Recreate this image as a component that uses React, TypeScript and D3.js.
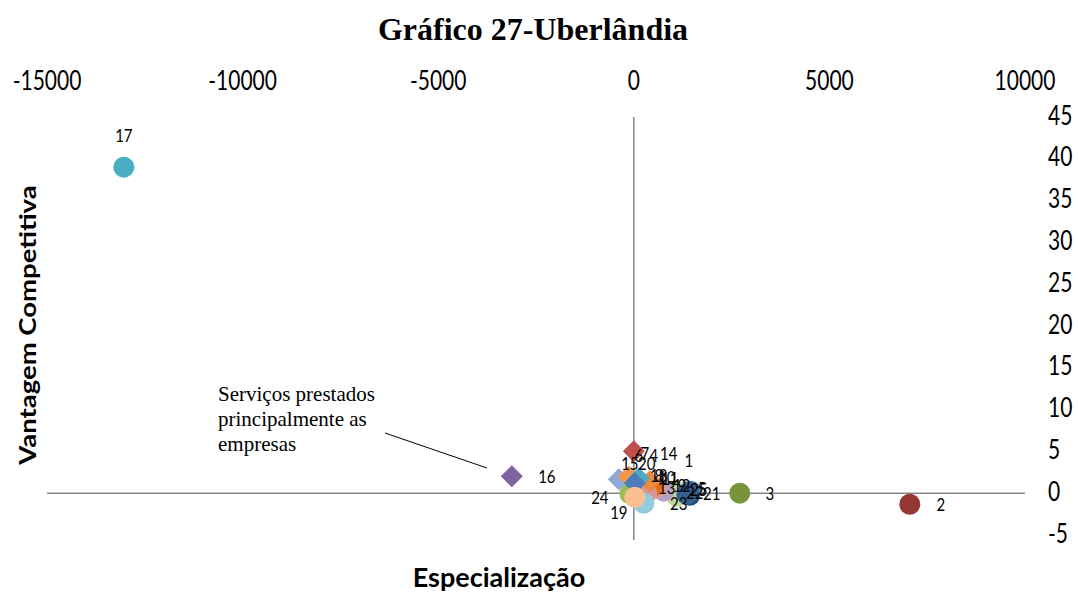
import React from "react";
import * as d3 from "d3";

// ---- data ----
const pointLabels = ["1","2","3","4","5","6","7","8","9","10","11","12","13","14","15","16","17","18","19","20","21","22","23","24","25"];
const especializacao = [409, 7055, 2709, -128, 1406, 128, 26, 460, 1074, 588, 716, 1150, 767, 0, -383, -3118, -13036, 332, 256, -102, 1431, 1355, 1099, 26, 1457];
const vantagem = [1.44, -1.32, 0.0, 2.0, 0.12, 1.8, 1.2, 0.72, 0.24, 0.6, 0.48, -0.12, 0.24, 5.02, 1.67, 2.03, 39.0, 0.0, -1.2, -0.05, -0.24, -0.12, -0.36, -0.48, 0.24];
const xTicks = [-15000, -10000, -5000, 0, 5000, 10000];
const yTicks = [45, 40, 35, 30, 25, 20, 15, 10, 5, 0, -5];

// ---- styling ----
const markerShape: Record<string, string> = {
  "1": "diamond", "4": "diamond", "6": "diamond", "7": "diamond", "14": "diamond", "15": "diamond", "16": "diamond",
};
const markerColor: Record<string, string> = {
  "1": "#E98A3C", "2": "#953735", "3": "#77933C", "4": "#F79646", "5": "#376092", "6": "#4BACC6",
  "7": "#4A7DBA", "8": "#E46C0A", "9": "#C3D69B", "10": "#D99694", "11": "#B3A2C7", "12": "#C3D69B",
  "13": "#B3A2C7", "14": "#C0504D", "15": "#8EA9D6", "16": "#8064A2", "17": "#4BACC6", "18": "#D99694",
  "19": "#93CDDD", "20": "#9BBB59", "21": "#1F497D", "22": "#376092", "23": "#C3D69B", "24": "#FAC090", "25": "#4F81BD",
};
// label offsets (px) relative to the marker
const labelOffset: Record<string, [number, number]> = {
  "17": [0, -31], "16": [35, 1], "2": [31, 1], "3": [30, 1], "14": [35, 3], "6": [0, -22], "7": [10, -29],
  "4": [25, -20], "15": [11, -15], "20": [17, -30], "1": [39, -20], "18": [12, -17], "13": [3, -3],
  "12": [3, -8], "9": [6, -5], "5": [13, -3], "22": [8, -1], "25": [8, -1], "21": [22, -1], "23": [2, 8],
  "24": [-35, 1], "19": [-25, 10], "8": [7, -11], "10": [10, -10], "11": [8, -10],
};
const drawOrder = ["17", "16", "2", "3", "20", "9", "12", "23", "21", "22", "25", "5", "13", "11", "10", "8", "18", "1", "15", "4", "6", "7", "14", "19", "24"];

const W = 1078, H = 593;
const sans = "Lato, 'Open Sans', sans-serif";
const serif = "'Liberation Serif', 'Times New Roman', serif";

export default function App() {
  const x = d3.scaleLinear().domain([-15000, 10000]).range([47, 1025]);
  const y = d3.scaleLinear().domain([-5, 45]).range([535, 117]);
  const idx = (l: string) => pointLabels.indexOf(l);
  const dh = 11;
  const diamond = `M0,${-dh}L${dh},0L0,${dh}L${-dh},0Z`;
  const pts = drawOrder.map((l) => {
    const i = idx(l);
    return { l, cx: x(especializacao[i]), cy: y(vantagem[i]) };
  });
  return (
    <svg width={W} height={H} style={{ position: "absolute", left: 0, top: 0, background: "#fff" }}>
      <text x={533} y={40} textAnchor="middle" fontFamily={serif} fontWeight="bold" fontSize={32}>
        Gráfico 27-Uberlândia
      </text>
      {/* axes */}
      <line x1={x(-15000)} x2={x(10000)} y1={y(0)} y2={y(0)} stroke="#868686" strokeWidth={1.5} />
      <line x1={x(0)} x2={x(0)} y1={y(45)} y2={y(-5) + 5} stroke="#868686" strokeWidth={1.5} />
      {xTicks.map((t) => (
        <text key={t} transform={`translate(${x(t)},${90}) scale(1,1.25)`} textAnchor="middle" fontFamily={sans} fontSize={21}>
          {t}
        </text>
      ))}
      {yTicks.map((t) => (
        <text key={t} transform={`translate(${1048},${y(t) + 7.5}) scale(1,1.25)`} fontFamily={sans} fontSize={21}>
          {t}
        </text>
      ))}
      {/* markers */}
      {pts.map((p) =>
        markerShape[p.l] === "diamond" ? (
          <path key={p.l} d={diamond} transform={`translate(${p.cx},${p.cy})`} fill={markerColor[p.l]} />
        ) : (
          <circle key={p.l} cx={p.cx} cy={p.cy} r={10.5} fill={markerColor[p.l]} />
        )
      )}
      {/* labels */}
      {pts.map((p) => {
        const o = labelOffset[p.l];
        return (
          <text key={"t" + p.l} transform={`translate(${p.cx + o[0]},${p.cy + o[1] + 6}) scale(1,1.2)`} textAnchor="middle" fontFamily={sans} fontSize={15} fill="#000">
            {p.l}
          </text>
        );
      })}
      {/* annotation */}
      <g fontFamily={serif} fontSize={21}>
        <text x={218} y={401}>Serviços prestados</text>
        <text x={218} y={426}>principalmente as</text>
        <text x={218} y={451}>empresas</text>
      </g>
      <line x1={385} y1={433} x2={487} y2={468} stroke="#000" strokeWidth={1} />
      {/* axis titles */}
      <text x={499} y={587} textAnchor="middle" fontFamily={sans} fontWeight="bold" fontSize={27}>
        Especialização
      </text>
      <text transform={`translate(36,325) rotate(-90) scale(1.25,1)`} textAnchor="middle" fontFamily={sans} fontWeight="bold" fontSize={22}>
        Vantagem Competitiva
      </text>
    </svg>
  );
}
